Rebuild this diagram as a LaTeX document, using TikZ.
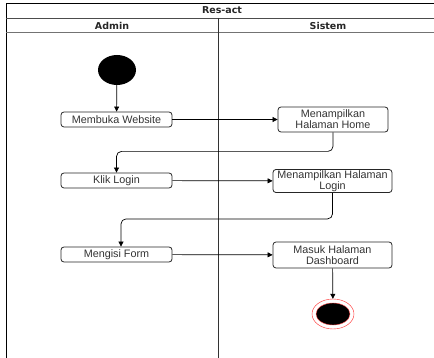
\documentclass[tikz,border=0pt]{standalone}
\usepackage{fontspec}
\setmainfont{Liberation Sans}
\newfontfamily\headfont{DejaVu Sans}
\usetikzlibrary{arrows.meta,positioning,shapes.geometric}

\tikzset{
  act/.style={draw=black!85, line width=0.8pt, rounded corners=3pt, minimum width=111pt, minimum height=15pt,
    inner sep=1pt, align=center, text=black!80, font=\fontsize{10.8}{11}\selectfont},
  flow/.style={-{Triangle[length=5pt,width=5pt]}, line width=0.7pt},
  lanehead/.style={font=\headfont\bfseries\fontsize{9.5}{11}\selectfont, text=black!85}
}

\begin{document}
\begin{tikzpicture}[x=1pt, y=-1pt]
        \useasboundingbox (0,0) rectangle (434,358);
        \clip (0,0) rectangle (434,358);
        % swimlane frame
        \draw [line width=0.9pt] (6,365) -- (6,3) -- (440,3);
        \draw [black!70] (6,18) -- (440,18);
        \draw [black!55, line width=1pt] (6,33) -- (440,33);
        \draw [black!80, line width=0.7pt] (218,18) -- (218,365);
        \node [lanehead] (title) at (222,10.5) {Res-act};
        \node [lanehead] (admin) at (112,25.5) {Admin};
        \node [lanehead] (sistem) at (328,25.5) {Sistem};
        % activities
        \node [ellipse, fill=black, minimum width=38pt, minimum height=30pt, inner sep=0pt] (start) at (117,70) {};
        \node [act] (web) at (116.5,119.5) {Membuka Website};
        \node [act, minimum width=110pt, minimum height=25pt] (home) at (333,119.5) {Menampilkan\\Halaman Home};
        \node [act] (klik) at (116.5,180.5) {Klik Login};
        \node [act, minimum width=119pt, minimum height=22pt] (login) at (332.5,181) {Menampilkan Halaman\\Login};
        \node [act] (form) at (116.5,254.5) {Mengisi Form};
        \node [act, minimum width=119pt, minimum height=26pt] (dash) at (332.5,255) {Masuk Halaman\\Dashboard};
        \node [ellipse, draw=red!85, minimum width=42pt, minimum height=30pt, inner sep=0pt] (end) at (333,314) {};
        \node [ellipse, fill=black, draw=red!70, minimum width=34pt, minimum height=22pt, inner sep=0pt] (endcore) at (333,314) {};
        % flow
        \draw [flow] (start) -- (web);
        \draw [flow] (web) -- (home);
        \draw [flow, rounded corners=5pt] (home.south) -- ++(0,19) -| (klik.north);
        \draw [flow] (klik) -- (login);
        \draw [flow, rounded corners=5pt] (login.south) -- ++(0,26) -| ([xshift=4.5pt]form.north);
        \draw [flow] (form) -- (dash);
        \draw [flow] (dash) -- (end);
    \end{tikzpicture}
\end{document}
